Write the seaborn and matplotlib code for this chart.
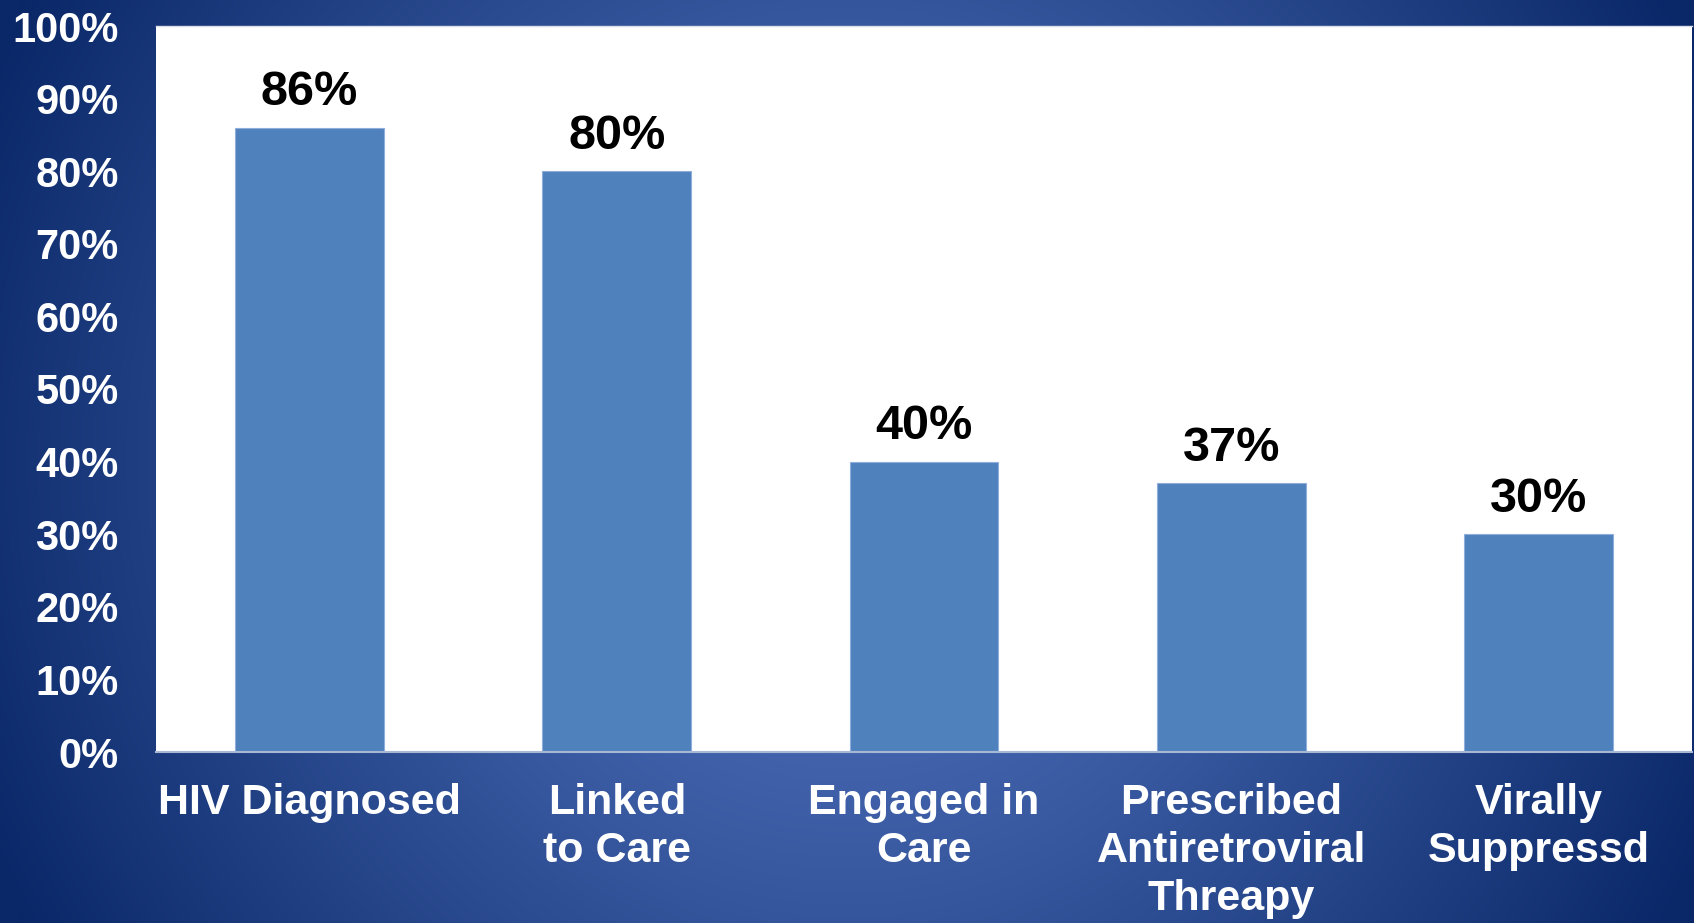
import numpy as np
import pandas as pd
import matplotlib
matplotlib.use("Agg")
import matplotlib.pyplot as plt
import seaborn as sns
from matplotlib.ticker import FixedLocator

# HIV care continuum
stages = ["HIV Diagnosed", "Linked\nto Care", "Engaged in\nCare",
          "Prescribed\nAntiretroviral\nThreapy", "Virally\nSuppressd"]
percent = [86, 80, 40, 37, 30]
y_ticks = list(range(0, 101, 10))
y_tick_labels = [f"{t}%" for t in y_ticks]

df = pd.DataFrame({"stage": stages, "percent": percent})

sns.set_theme(style="white")
plt.rcParams["font.family"] = ["Liberation Sans", "DejaVu Sans"]
plt.rcParams["font.weight"] = "bold"

W, H, DPI = 1694, 923, 100
fig = plt.figure(figsize=(W / DPI, H / DPI), dpi=DPI)

# radial blue backdrop
bg = fig.add_axes([0, 0, 1, 1], zorder=0)
yy, xx = np.mgrid[0:H, 0:W]
r = np.hypot(xx - W * 0.5, yy - H * 0.5)
t = np.clip(r / 940.0, 0, 1) ** 1.15
light = np.array([86, 120, 196]) / 255.0
dark = np.array([10, 40, 104]) / 255.0
img = light[None, None, :] * (1 - t[..., None]) + dark[None, None, :] * t[..., None]
bg.imshow(img, aspect="auto", extent=[0, 1, 0, 1], interpolation="bilinear")
bg.set_axis_off()

ax = fig.add_axes([156 / W, 171 / H, 1536 / W, 726 / H], zorder=1)
ax.set_facecolor("white")
sns.barplot(data=df, x="stage", y="percent", color="#4F81BD", saturation=1,
            width=0.485, edgecolor="#8FAEDB", linewidth=0.8, ax=ax)

ax.set_ylim(0, 100)
ax.set_xlim(-0.5, len(stages) - 0.5)
ax.yaxis.set_major_locator(FixedLocator(y_ticks))
ax.set_yticklabels(y_tick_labels)
ax.set_xlabel("")
ax.set_ylabel("")
ax.tick_params(axis="y", length=0, pad=27, labelsize=30, labelcolor="white")
ax.tick_params(axis="x", length=0, pad=22, labelsize=31, labelcolor="white")
for lab in ax.get_yticklabels() + ax.get_xticklabels():
    lab.set_fontweight("bold")
for lab in ax.get_xticklabels():
    lab.set_multialignment("center")
    lab.set_linespacing(1.27)

for side in ["left", "right"]:
    ax.spines[side].set_visible(False)
ax.spines["top"].set_color("#D9DEE8")
ax.spines["top"].set_linewidth(1.0)
ax.spines["bottom"].set_color("#A8B7D3")
ax.spines["bottom"].set_linewidth(1.5)

ax.bar_label(ax.containers[0], labels=[f"{v}%" for v in percent], padding=9,
             fontsize=35, fontweight="bold", color="black")

fig.savefig("out.png", dpi=DPI)
